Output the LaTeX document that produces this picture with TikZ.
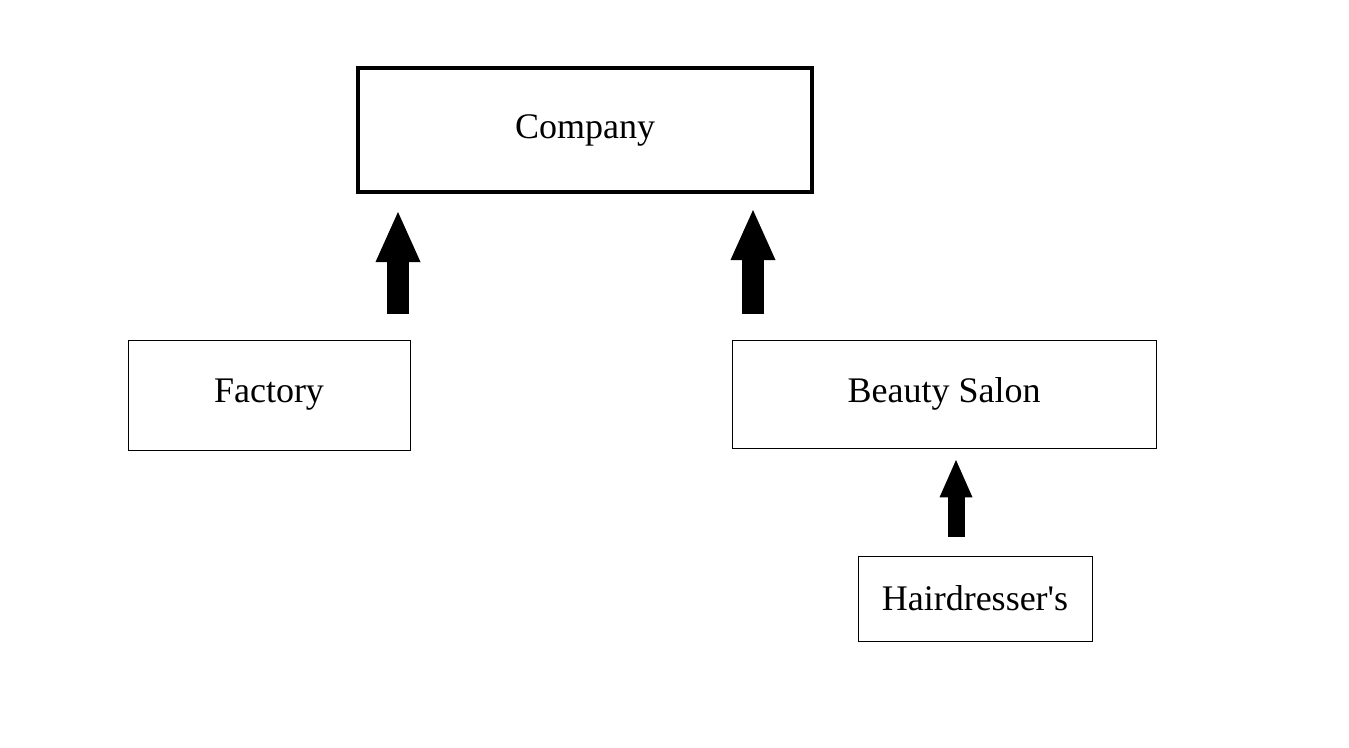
\documentclass[tikz,border=0pt]{standalone}
\usepackage{fontspec}
\setmainfont{Liberation Serif}
\usetikzlibrary{arrows.meta}

\tikzset{
  box/.style={draw, thin, line width=0.75pt, inner sep=0pt, font=\fontsize{27}{32}\selectfont},
  bigbox/.style={box, line width=3pt},
  blockarrow/.style={line width=17pt, -{Triangle[width=33.75pt,length=37.5pt,line width=0pt]}},
  smallarrow/.style={line width=12.75pt, -{Triangle[width=24.75pt,length=28pt,line width=0pt]}}
}

\begin{document}
\begin{tikzpicture}[x=0.75pt,y=-0.75pt]
    \useasboundingbox (0,0) rectangle (1349,747);

    \node[bigbox, minimum width=340.5pt, minimum height=93pt] (company) at (585,130) {Company};
    \node[box, minimum width=211.5pt, minimum height=82.5pt] (factory) at (269,395) {Factory};
    \node[box, minimum width=318pt, minimum height=81pt] (salon) at (944,394) {Beauty Salon};
    \node[box, minimum width=175.5pt, minimum height=63.75pt] (hair) at (975,598.5) {Hairdresser\textquotesingle s};

    \coordinate (f1) at (398,314);
    \coordinate (t1) at (398,212);
    \coordinate (f2) at (753,314);
    \coordinate (t2) at (753,210);
    \coordinate (f3) at (956,537);
    \coordinate (t3) at (956,460);

    \draw[blockarrow] (f1) -- (t1);
    \draw[blockarrow] (f2) -- (t2);
    \draw[smallarrow] (f3) -- (t3);
\end{tikzpicture}
\end{document}
